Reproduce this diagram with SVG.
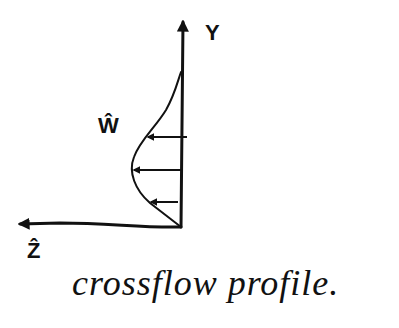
<svg xmlns="http://www.w3.org/2000/svg" width="399" height="328" viewBox="0 0 399 328">
<style>
.ax{stroke:#111;stroke-width:3;fill:none;stroke-linecap:round}
.cv{stroke:#111;stroke-width:2;fill:none;stroke-linecap:round}
.ar{stroke:#111;stroke-width:2;fill:none}
.lbl{font-family:"Liberation Sans",sans-serif;fill:#111;font-weight:bold}
.hand{font-family:"Liberation Serif",serif;font-style:italic;fill:#111}
</style>
<defs>
<marker id="ah" viewBox="0 0 10 10" refX="8" refY="5" markerWidth="4" markerHeight="4" orient="auto">
<path d="M0,0 L10,5 L0,10 z" fill="#111"/>
</marker>
<marker id="oh" viewBox="0 0 10 10" refX="8" refY="5" markerWidth="4" markerHeight="4" orient="auto">
<path d="M0,0 L10,5 L0,10 z" fill="#111"/>
</marker>
</defs>
<g id="connectors">
<path id="y-axis" class="ax" d="M181,227 L183,22" marker-end="url(#ah)"/>
<path id="z-axis" class="ax" d="M181,227 C140,228 110,223 60,223 L20,224" marker-end="url(#ah)"/>
<path class="ar" d="M187,137 L148,137" marker-end="url(#oh)"/>
<path class="ar" d="M182,170 L134,170" marker-end="url(#oh)"/>
<path class="ar" d="M178,202 L151,202" marker-end="url(#oh)"/>
</g>
<g id="profile">
<path class="cv" d="M181,227 L150,203 C135,190 128,172 134,157 C140,140 155,128 166,110 C175,94 178,80 181,72"/>
</g>
<g id="labels">
<text class="lbl" x="205" y="40" font-size="22">Y</text>
<text class="lbl" x="98" y="133" font-size="22">Ŵ</text>
<text class="lbl" x="27" y="258" font-size="22">Ẑ</text>
<text class="hand" x="72" y="295" font-size="36" letter-spacing="1">crossflow profile.</text>
</g>
</svg>
